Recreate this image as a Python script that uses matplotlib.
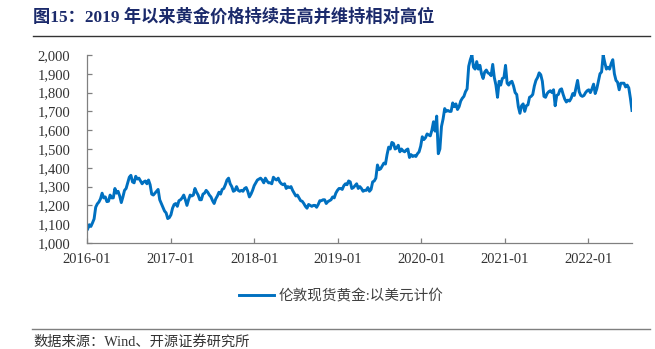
import numpy as np
import pandas as pd
import matplotlib
matplotlib.use("Agg")
import matplotlib.pyplot as plt
import matplotlib.dates as mdates
from matplotlib.lines import Line2D
from matplotlib.ticker import FuncFormatter, MultipleLocator

# 伦敦现货黄金（美元/盎司），周度，每周一
gold_2016 = [1075, 1097, 1088, 1107,
             1128, 1190, 1208, 1218, 1235,
             1265, 1240, 1245, 1220,
             1222, 1255, 1240, 1240,
             1290, 1265, 1275, 1250, 1215,
             1245, 1280, 1290, 1320,
             1350, 1360, 1325, 1320,
             1355, 1340, 1345, 1330, 1315,
             1325, 1330, 1315, 1335,
             1310, 1260, 1255, 1265, 1275,
             1285, 1230, 1210, 1190,
             1170, 1160, 1130, 1135]
gold_2017 = [1150, 1185, 1205, 1210, 1195,
             1225, 1230, 1240, 1255,
             1230, 1200, 1230, 1255,
             1250, 1255, 1290, 1270,
             1255, 1230, 1230, 1260, 1265,
             1280, 1270, 1255, 1245,
             1225, 1210, 1235, 1250, 1270,
             1260, 1285, 1290, 1310,
             1335, 1345, 1315, 1300,
             1275, 1280, 1300, 1280, 1275,
             1280, 1275, 1290, 1295,
             1275, 1245, 1260, 1280]
gold_2018 = [1305, 1320, 1335, 1340, 1345,
             1335, 1320, 1345, 1330,
             1320, 1320, 1315, 1350,
             1340, 1335, 1345, 1325, 1315,
             1310, 1315, 1290, 1300,
             1295, 1300, 1280, 1265,
             1250, 1255, 1240, 1225, 1222,
             1210, 1195, 1185, 1205,
             1200, 1195, 1200, 1200,
             1190, 1205, 1225, 1225, 1230,
             1230, 1210, 1220, 1225,
             1230, 1245, 1240, 1265, 1280]
gold_2019 = [1290, 1290, 1285, 1305,
             1315, 1310, 1330, 1325,
             1290, 1295, 1305, 1315,
             1290, 1300, 1290, 1275, 1280,
             1280, 1295, 1275, 1285,
             1325, 1330, 1345, 1415,
             1390, 1395, 1410, 1425, 1420,
             1470, 1510, 1500, 1535,
             1530, 1500, 1505, 1520, 1485,
             1500, 1490, 1485, 1495,
             1500, 1455, 1470, 1460,
             1465, 1460, 1475, 1485, 1515]
gold_2020 = [1565, 1550, 1560, 1580,
             1575, 1570, 1600, 1645,
             1595, 1675, 1475, 1500, 1620,
             1660, 1715, 1700, 1705,
             1700, 1700, 1745, 1725,
             1740, 1710, 1725, 1755, 1770,
             1780, 1805, 1820, 1940,
             1975, 2000, 1935, 1925, 1965,
             1925, 1945, 1900, 1875,
             1910, 1920, 1905, 1900,
             1890, 1950, 1880, 1840, 1775,
             1860, 1840, 1875, 1880]
gold_2021 = [1945, 1850, 1840, 1855,
             1860, 1835, 1800, 1790,
             1725, 1690, 1730, 1740, 1700,
             1730, 1735, 1775, 1780,
             1790, 1835, 1865, 1880, 1905,
             1895, 1860, 1780, 1775,
             1795, 1805, 1810, 1800,
             1815, 1730, 1785, 1790, 1815,
             1820, 1790, 1765, 1750,
             1760, 1755, 1770, 1795,
             1785, 1825, 1865, 1805, 1785,
             1780, 1785, 1800, 1810]
gold_2022 = [1815, 1800, 1820, 1845, 1795,
             1820, 1860, 1900, 1910,
             2000, 1960, 1925, 1935,
             1925, 1955, 1975, 1900,
             1865, 1855, 1815, 1850, 1850,
             1850, 1830, 1840, 1825,
             1770, 1705]

prices = gold_2016 + gold_2017 + gold_2018 + gold_2019 + gold_2020 + gold_2021 + gold_2022
dates = pd.date_range("2016-01-04", periods=len(prices), freq="W-MON")
gold = pd.Series(prices, index=dates)

years = ["2016", "2017", "2018", "2019", "2020", "2021", "2022"]

serif_cjk = ["Liberation Serif", "Noto Sans CJK SC"]
axis_gray = "#808080"
text_gray = "#404040"
blue = "#0070C0"

fig = plt.figure(figsize=(6.55, 3.49), dpi=100)
ax = fig.add_axes([87 / 655, 1 - 243 / 349, (632 - 87) / 655, (243 - 55) / 349])

ax.plot(gold.index, gold.values, color=blue, lw=2.1, solid_joinstyle="round")

ax.set_ylim(1000, 2000)
ax.set_xlim(pd.Timestamp("2016-01-01"), gold.index[-1])
ax.yaxis.set_major_locator(MultipleLocator(100))
ax.yaxis.set_major_formatter(FuncFormatter(lambda v, p: f"{v:,.0f}"))
ax.set_xticks([pd.Timestamp(f"{y}-01-01") for y in years])
ax.set_xticklabels([f"{y}-01" for y in years])

for s in ["top", "right"]:
    ax.spines[s].set_visible(False)
for s in ["left", "bottom"]:
    ax.spines[s].set_color(axis_gray)
    ax.spines[s].set_linewidth(0.9)
ax.tick_params(direction="in", length=3.5, width=0.9, color=axis_gray,
               labelsize=10.5, labelcolor="#333333")
ax.tick_params(axis="y", pad=12)
ax.tick_params(axis="x", pad=7)
for lab in ax.get_xticklabels() + ax.get_yticklabels():
    lab.set_family("Liberation Serif")

# 图例
handle = Line2D([], [], color=blue, lw=2.1)
fig.legend([handle], ["伦敦现货黄金:以美元计价"], loc="center",
           bbox_to_anchor=(341 / 655, 1 - 296 / 349), frameon=False,
           handlelength=2.4, handletextpad=0.3,
           prop={"family": serif_cjk, "size": 10.5}, labelcolor=text_gray)

# 标题和来源
fig.text(33 / 655, 1 - 17 / 349, "图15：2019 年以来黄金价格持续走高并维持相对高位",
         family=serif_cjk, fontsize=12.4, fontweight="bold", color="#1B2A6B",
         ha="left", va="center")
fig.add_artist(Line2D([33 / 655, 650 / 655], [1 - 36 / 349] * 2,
                      color="#333333", lw=1.0))
fig.add_artist(Line2D([32 / 655, 650 / 655], [1 - 329 / 349] * 2,
                      color="#7F7F7F", lw=1.0))
fig.text(33 / 655, 1 - 342 / 349, "数据来源：Wind、开源证券研究所",
         family=serif_cjk, fontsize=10.3, color="#333333", ha="left", va="center")

fig.savefig("out.png", dpi=100)
